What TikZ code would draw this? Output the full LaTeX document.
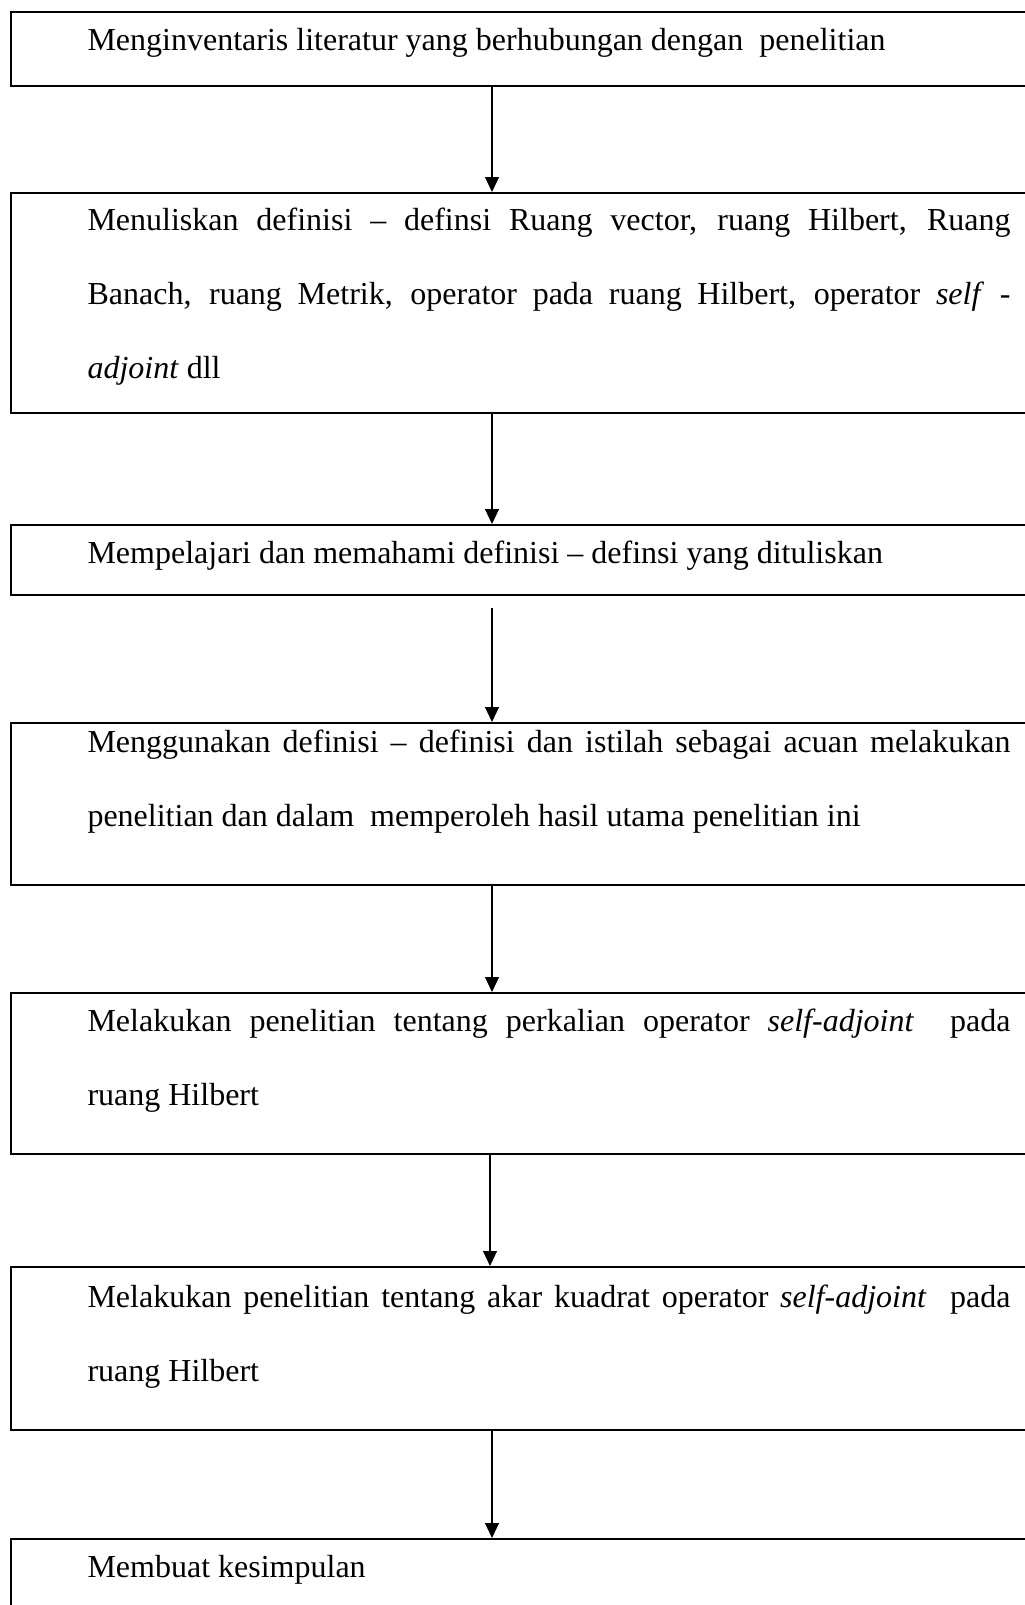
\documentclass[tikz,border=0pt]{standalone}
\usepackage{fontspec}
\setmainfont{Liberation Serif}
\usetikzlibrary{arrows.meta,positioning}
\tikzset{
  stepbox/.style={draw, line width=0.75pt, anchor=north west, inner sep=0pt, minimum width=386.25pt},
  steptext/.style={anchor=base west, inner sep=0pt, text width=346.125pt, align=justify, font=\fontsize{12}{27.75}\selectfont},
  conn/.style={->, line width=0.5pt}
}
\begin{document}
\begin{tikzpicture}[x=0.375pt, y=-0.375pt, >={Triangle[length=5.6pt,width=5.2pt]}]
\useasboundingbox (0,0) rectangle (1025,1605);
\clip (0,0) rectangle (1025,1605);

\node[stepbox, minimum height=27.75pt] (b1) at (10,11) {};
\node[stepbox, minimum height=82.5pt] (b2) at (10,192) {};
\node[stepbox, minimum height=26.25pt] (b3) at (10,524) {};
\node[stepbox, minimum height=60.75pt] (b4) at (10,722) {};
\node[stepbox, minimum height=60.375pt] (b5) at (10,992) {};
\node[stepbox, minimum height=61.125pt] (b6) at (10,1266) {};
\node[stepbox, minimum height=37.5pt] (b7) at (10,1538) {};

\node[steptext] (t1) at (87,50) {Menginventaris literatur yang berhubungan dengan\ \ penelitian};
\node[steptext] (t2) at (87,230) {Menuliskan definisi -- definsi Ruang vector, ruang Hilbert, Ruang\linebreak Banach, ruang Metrik, operator pada ruang Hilbert, operator \textit{self} -\linebreak \textit{adjoint} dll};
\node[steptext] (t3) at (87,563) {Mempelajari dan memahami definisi -- definsi yang dituliskan};
\node[steptext] (t4) at (87,752) {Menggunakan definisi -- definisi dan istilah sebagai acuan melakukan\linebreak penelitian dan dalam\ \ memperoleh hasil utama penelitian ini};
\node[steptext] (t5) at (87,1031) {Melakukan penelitian tentang perkalian operator \textit{self-adjoint}\ \ pada\linebreak ruang Hilbert};
\node[steptext] (t6) at (87,1307) {Melakukan penelitian tentang akar kuadrat operator \textit{self-adjoint}\ \ pada\linebreak ruang Hilbert};
\node[steptext] (t7) at (87,1577) {Membuat kesimpulan};

\coordinate (ax) at (492,0);
\coordinate (bx) at (490,0);

\draw[conn] (b1.south -| ax) -- (b2.north -| ax);
\draw[conn] (b2.south -| ax) -- (b3.north -| ax);
\draw[conn, shorten <=4.5pt] (b3.south -| ax) -- (b4.north -| ax);
\draw[conn] (b4.south -| ax) -- (b5.north -| ax);
\draw[conn] (b5.south -| bx) -- (b6.north -| bx);
\draw[conn] (b6.south -| ax) -- (b7.north -| ax);
\end{tikzpicture}
\end{document}
